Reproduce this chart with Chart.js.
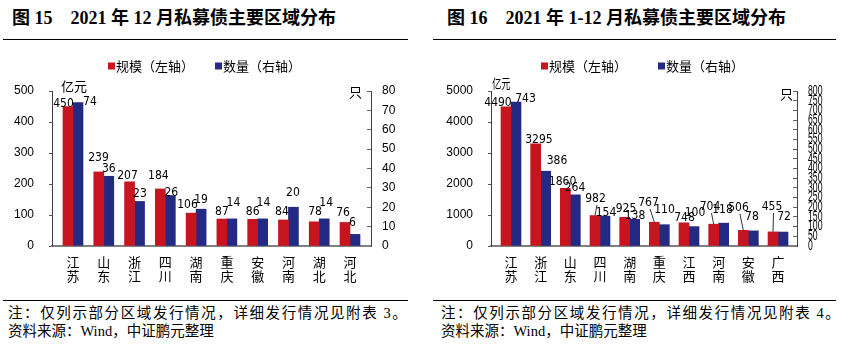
<!DOCTYPE html>
<html><head><meta charset="utf-8">
<script src="https://cdn.jsdelivr.net/npm/chart.js@4/dist/chart.umd.min.js"></script>
<style>
body{margin:0;width:841px;height:346px;background:#fff;position:relative;overflow:hidden;font-family:"Liberation Serif","Noto Sans CJK SC",serif;color:#000;}
.t{position:absolute;white-space:nowrap;}
.title{font-weight:bold;font-size:18px;line-height:20px;top:8px;}
.rule{position:absolute;height:0;border-top:1.5px solid #000;}
.note{font-size:14.5px;line-height:18px;}
.n1{letter-spacing:1.6px;}
.unit{font-family:"Noto Sans CJK SC",sans-serif;font-size:13px;line-height:16px;}
canvas{position:absolute;top:45px;}
</style></head>
<body>
<div class="t title" style="left:12px;">图 15&nbsp;&nbsp;&nbsp;&nbsp;2021 年 12 月私募债主要区域分布</div>
<div class="t title" style="left:447px;">图 16&nbsp;&nbsp;&nbsp;&nbsp;2021 年 1-12 月私募债主要区域分布</div>
<div class="rule" style="left:3px;width:405px;top:39px;"></div>
<div class="rule" style="left:433px;width:403px;top:39px;"></div>

<canvas id="c1" width="410" height="255" style="left:0px;"></canvas>
<canvas id="c2" width="411" height="255" style="left:430px;"></canvas>

<div class="t unit" style="left:61px;top:78px;">亿元</div>
<div class="t unit" style="left:349px;top:84px;">只</div>
<div class="t unit" style="left:492px;top:75px;transform:scaleX(0.72);transform-origin:left;">亿元</div>
<div class="t unit" style="left:780px;top:86px;">只</div>

<div class="rule" style="left:3px;width:405px;top:300px;"></div>
<div class="rule" style="left:433px;width:403px;top:300px;"></div>
<div class="t note n1" style="left:8px;top:304px;">注：仅列示部分区域发行情况，详细发行情况见附表 3。</div>
<div class="t note" style="left:8px;top:322px;">资料来源：Wind，中证鹏元整理</div>
<div class="t note n1" style="left:441px;top:304px;">注：仅列示部分区域发行情况，详细发行情况见附表 4。</div>
<div class="t note" style="left:441px;top:322px;">资料来源：Wind，中证鹏元整理</div>

<script>
// ---- data ----
const cats1 = ['江苏','山东','浙江','四川','湖南','重庆','安徽','河南','湖北','河北'];
const scale1 = [450, 239, 207, 184, 106, 87, 86, 84, 78, 76];
const count1 = [74, 36, 23, 26, 19, 14, 14, 20, 14, 6];
const leftTicks1 = [0, 100, 200, 300, 400, 500];
const rightTicks1 = [0, 10, 20, 30, 40, 50, 60, 70, 80];

const cats2 = ['江苏','浙江','山东','四川','湖南','重庆','江西','河南','安徽','广西'];
const scale2 = [4490, 3295, 1860, 982, 925, 767, 748, 704, 506, 455];
const count2 = [743, 386, 264, 154, 138, 110, 100, 118, 78, 72];
const leftTicks2 = [0, 500, 1000, 1500, 2000, 2500, 3000, 3500, 4000, 4500, 5000];
const rightTicks2 = [0, 50, 100, 150, 200, 250, 300, 350, 400, 450, 500, 550, 600, 650, 700, 750, 800];

const seriesNames = ['规模（左轴）', '数量（右轴）'];

// ---- styles ----
const RED = '#C8141F';
const BLUE = '#232A84';
const SANS = '"Liberation Sans", Arial, sans-serif';
const NARROW = '"Liberation Sans Narrow", "DejaVu Sans Condensed", "Liberation Sans", sans-serif';
const CJK = '"Noto Sans CJK SC", sans-serif';

const valueLabels = {
  id: 'valueLabels',
  afterDatasetsDraw(chart, args, opts) {
    const ctx = chart.ctx;
    ctx.save();
    ctx.font = opts.font;
    ctx.fillStyle = '#000';
    ctx.textAlign = 'center';
    ctx.textBaseline = 'middle';
    chart.data.datasets.forEach((ds, di) => {
      const meta = chart.getDatasetMeta(di);
      meta.data.forEach((bar, i) => {
        const off = opts.offsets[di][i];
        const lx = bar.x + off[0], ly = bar.y + off[1];
        if (opts.leaders && opts.leaders[di] && opts.leaders[di].includes(i)) {
          ctx.beginPath();
          ctx.strokeStyle = '#333';
          ctx.lineWidth = 1;
          ctx.moveTo(lx + 1.5, ly + 6);
          ctx.lineTo(bar.x, bar.y);
          ctx.stroke();
        }
        ctx.fillText(String(ds.data[i].y), lx, ly);
      });
    });
    ctx.restore();
  }
};

const manualLegend = {
  id: 'manualLegend',
  afterDraw(chart, args, opts) {
    const ctx = chart.ctx;
    ctx.save();
    ctx.font = opts.font;
    ctx.textBaseline = 'middle';
    ctx.textAlign = 'left';
    chart.data.datasets.forEach((ds, i) => {
      const x = opts.xs[i], y = opts.y;
      ctx.fillStyle = ds.backgroundColor;
      ctx.fillRect(x, y - 3.5, 7, 7);
      ctx.fillStyle = '#000';
      ctx.fillText(ds.label, x + 8, y);
    });
    ctx.restore();
  }
};

const narrowTicks = {
  id: 'narrowTicks',
  afterDraw(chart, args, opts) {
    if (!opts || !opts.id) return;
    const s = chart.scales[opts.id];
    const ctx = chart.ctx;
    ctx.save();
    ctx.font = opts.font;
    ctx.fillStyle = '#000';
    ctx.textAlign = 'left';
    ctx.textBaseline = 'middle';
    s.ticks.forEach(t => {
      const y = s.getPixelForValue(t.value);
      ctx.save();
      ctx.translate(s.left + opts.dx, y);
      ctx.scale(opts.sx, 1);
      ctx.fillText(String(t.value), 0, 0);
      ctx.restore();
    });
    ctx.restore();
  }
};

function makeChart(el, cats, redVals, blueVals, lt, rt, geo, labelOpts, rightCustom) {
  return new Chart(el, {
    type: 'bar',
    data: {
      datasets: [
        { label: seriesNames[0], data: redVals.map((v, i) => ({ x: i, y: v })), backgroundColor: RED, yAxisID: 'y', barThickness: 10 },
        { label: seriesNames[1], data: blueVals.map((v, i) => ({ x: i, y: v })), backgroundColor: BLUE, yAxisID: 'y2', barThickness: 10 }
      ]
    },
    options: {
      responsive: false,
      animation: false,
      layout: { padding: { top: 46, left: 0, right: 0, bottom: 0 } },
      plugins: {
        legend: { display: false },
        tooltip: { enabled: false },
        manualLegend: { xs: geo.legendXs, y: 21, font: '13px ' + CJK },
        valueLabels: labelOpts,
        narrowTicks: rightCustom ? { id: 'y2', dx: 11, sx: 0.62, font: '14px ' + SANS } : {}
      },
      scales: {
        x: {
          type: 'linear', offset: false, min: geo.xmin, max: geo.xmax,
          afterBuildTicks: s => { s.ticks = cats.map((c, i) => ({ value: i })); },
          afterFit: s => { s.height = 54; },
          ticks: {
            autoSkip: false, maxRotation: 0, minRotation: 0, padding: 9, color: '#000',
            font: { family: CJK, size: 13, lineHeight: 1.08 },
            callback: v => (cats[v] ? cats[v].split('') : '')
          },
          grid: { drawOnChartArea: false, drawTicks: false, offset: false },
          border: { color: '#808080', width: 2 }
        },
        y: {
          position: 'left', min: lt[0], max: lt[lt.length - 1],
          afterBuildTicks: s => { s.ticks = lt.map(v => ({ value: v })); },
          afterFit: s => { s.width = geo.leftW; },
          ticks: { padding: 15, color: '#000', font: { family: SANS, size: 12 }, callback: v => String(v) },
          grid: { drawOnChartArea: false, tickLength: 3, color: '#555' },
          border: { color: '#404040', width: 1 }
        },
        y2: {
          position: 'right', min: rt[0], max: rt[rt.length - 1],
          afterBuildTicks: s => { s.ticks = rt.map(v => ({ value: v })); },
          afterFit: s => { s.width = geo.rightW; },
          ticks: { display: !rightCustom, padding: 15, color: '#000', font: { family: SANS, size: 12 }, callback: v => String(v) },
          grid: { drawOnChartArea: false, tickLength: -4, color: '#666' },
          border: { color: '#404040', width: 1 }
        }
      }
    },
    plugins: [valueLabels, manualLegend, narrowTicks]
  });
}

makeChart(document.getElementById('c1'), cats1, scale1, count1, leftTicks1, rightTicks1,
  { xmin: -0.682, xmax: 9.682, leftW: 52, rightW: 39, legendXs: [108, 215] },
  {
    font: '12px ' + NARROW,
    offsets: [
      [[-4.5,-3], [-0.3,-14.5], [-2,-6], [-2,-13], [-3.6,-8], [0,-7], [0,-7.3], [-1.5,-8], [0.8,-10], [-2,-10]],
      [[12,-0.6], [0,-7], [0.4,-7.4], [1,-2.6], [0,-9], [1.5,-16], [0.8,-16], [-0.5,-14], [2,-16], [-2.5,-12]]
    ]
  }, false);

makeChart(document.getElementById('c2'), cats2, scale2, count2, leftTicks2, rightTicks2,
  { xmin: -0.674, xmax: 9.640, leftW: 61, rightW: 44, legendXs: [111, 228] },
  {
    font: '12px ' + NARROW,
    offsets: [
      [[-8,-3.5], [3.3,-4], [-2.8,-6.3], [0.5,-16.6], [1.3,-8.3], [-5.8,-19.2], [0.5,-4.8], [-3.7,-17.2], [-4.9,-22.3], [-1,-24.9]],
      [[9.5,-3.5], [11.3,-10.5], [-0.3,-6.8], [1,-3.2], [0.3,-3.3], [0.2,-14.7], [1,-13.6], [-1.2,-13.1], [-1.4,-13.9], [1,-15]]
    ],
    leaders: [[3, 5, 7, 8, 9], []]
  }, true);
</script>
</body></html>
